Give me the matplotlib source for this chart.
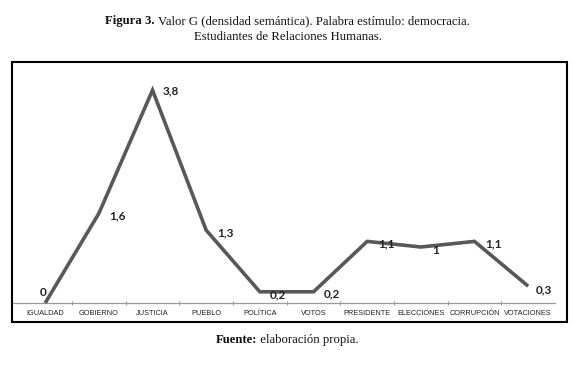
import matplotlib
matplotlib.use("Agg")
import matplotlib.pyplot as plt
from matplotlib.patches import Rectangle

categories = ["IGUALDAD", "GOBIERNO", "JUSTICIA", "PUEBLO", "POLÍTICA", "VOTOS",
              "PRESIDENTE", "ELECCIONES", "CORRUPCIÓN", "VOTACIONES"]
values = [0, 1.6, 3.8, 1.3, 0.2, 0.2, 1.1, 1.0, 1.1, 0.3]
labels = ["0", "1,6", "3,8", "1,3", "0,2", "0,2", "1,1", "1", "1,1", "0,3"]

W, H = 575, 371
fig = plt.figure(figsize=(W / 100, H / 100), dpi=100)
fig.patch.set_facecolor("white")

# Axes placement (pixel-based)
ax_left, ax_right = 13, 555
ax_bottom_px, ax_top_px = 303, 79
ax = fig.add_axes([ax_left / W, (H - ax_bottom_px) / H,
                   (ax_right - ax_left) / W, (ax_bottom_px - ax_top_px) / H])
ax.set_facecolor("none")

x = list(range(len(categories)))
ax.plot(x, values, color="#585858", lw=2.6, solid_joinstyle="miter",
        solid_capstyle="butt", clip_on=False, zorder=3)
ax.set_xlim(-0.6, 9.5)
ax.set_ylim(0, 4)

for s in ["top", "right", "left"]:
    ax.spines[s].set_visible(False)
ax.spines["bottom"].set_color("#9a9a9a")
ax.spines["bottom"].set_linewidth(0.9)
ax.set_yticks([])
ax.set_xticks(x)
ax.set_xticklabels(categories, fontsize=5.3, color="#222222",
                   family="Liberation Sans")
ax.tick_params(axis="x", which="major", length=0, pad=5)
ax.set_xticks([i + 0.5 for i in range(len(categories) - 1)], minor=True)
ax.tick_params(axis="x", which="minor", length=3, direction="inout",
               color="#9a9a9a", width=0.8)

# data labels (offsets in pixels)
offsets = [(-2, 11), (19, -2), (18, -1), (19, -3), (18, -3), (18, -2),
           (19, -2), (15, -3), (19, -2), (16, -4)]
for xi, v, lab, off in zip(x, values, labels, offsets):
    ax.annotate(lab, (xi, v), xytext=off, textcoords="offset pixels",
                ha="center", va="center", fontsize=8.5, fontweight="bold",
                color="#222222", family="Lato", zorder=4,
                annotation_clip=False)

# outer box
box = Rectangle((12 / W, (H - 322) / H), (567 - 12) / W, (322 - 62) / H,
                transform=fig.transFigure, fill=False, edgecolor="black",
                lw=1.5)
fig.patches.append(box)

renderer = fig.canvas.get_renderer()


def mixed_line(y_px, parts, size=9.2):
    texts = []
    for s, weight in parts:
        t = fig.text(0, 1 - y_px / H, s, ha="left", va="center",
                     fontsize=size, family="Liberation Serif",
                     fontweight=weight, color="#111111")
        texts.append(t)
    widths = [t.get_window_extent(renderer).width for t in texts]
    total = sum(widths)
    xpos = (W - total) / 2
    for t, w in zip(texts, widths):
        t.set_x(xpos / W)
        xpos += w


mixed_line(21, [("Figura 3.", "bold"),
                (" Valor G (densidad semántica). Palabra estímulo: democracia.", "normal")])
mixed_line(37, [("Estudiantes de Relaciones Humanas.", "normal")])
mixed_line(340, [("Fuente:", "bold"), (" elaboración propia.", "normal")])

fig.savefig("out.png", dpi=100)
